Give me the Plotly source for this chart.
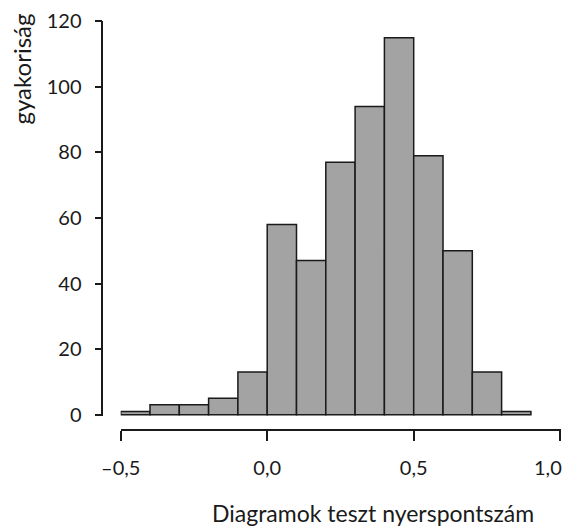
import plotly.graph_objects as go

bin_left = [-0.5, -0.4, -0.3, -0.2, -0.1, 0.0, 0.1, 0.2, 0.3, 0.4, 0.5, 0.6, 0.7, 0.8]
bin_width = 0.1
counts = [1, 3, 3, 5, 13, 58, 47, 77, 94, 115, 79, 50, 13, 1]
x_tickvals = [-0.5, 0.0, 0.5, 1.0]
x_ticktext = ["–0,5", "0,0", "0,5", ""]
last_tick_label = "1,0"
y_tickvals = [0, 20, 40, 60, 80, 100, 120]

W, H = 568, 526
FONT = "Lato"

centers = [b + bin_width / 2 for b in bin_left]

fig = go.Figure(go.Bar(
    x=centers, y=counts, width=[bin_width] * len(counts),
    marker=dict(color="#a3a3a3", line=dict(color="#1a1a1a", width=1.5)),
))

fig.update_layout(
    width=W, height=H,
    margin=dict(l=0, r=0, t=0, b=0),
    plot_bgcolor="white", paper_bgcolor="white",
    showlegend=False,
    font=dict(family=FONT, size=20, color="#1a1a1a"),
    xaxis=dict(
        domain=[120.7 / W, 560.5 / W], range=[-0.5, 1.001],
        anchor="free", position=(H - 430) / H, automargin=False,
        showline=True, linecolor="#1a1a1a", linewidth=1.5,
        ticks="outside", ticklen=10, tickwidth=1.5, tickcolor="#1a1a1a",
        tickvals=x_tickvals, ticktext=x_ticktext,
        ticklabelstandoff=10, ticklabeloverflow="allow",
        showgrid=False, zeroline=False,
    ),
    yaxis=dict(
        domain=[(H - 416) / H, (H - 21.3) / H], range=[-0.4, 120],
        anchor="free", position=102.3 / W, automargin=False,
        showline=True, linecolor="#1a1a1a", linewidth=1.5,
        ticks="outside", ticklen=7, tickwidth=1.5, tickcolor="#1a1a1a",
        tickvals=y_tickvals,
        ticklabelstandoff=9,
        showgrid=False, zeroline=False,
    ),
    annotations=[
        dict(text="gyakoriság", textangle=-90, xref="paper", yref="paper",
             x=21 / W, y=(H - 12) / H, xanchor="center", yanchor="top",
             showarrow=False, font=dict(family=FONT, size=24)),
        dict(text="Diagramok teszt nyerspontszám", xref="paper", yref="paper",
             x=373 / W, y=(H - 513) / H, xanchor="center", yanchor="middle",
             showarrow=False, font=dict(family=FONT, size=23)),
        dict(text=last_tick_label, xref="x", yref="paper",
             x=x_tickvals[-1], y=(H - 467) / H, xanchor="right", yanchor="middle",
             xshift=4, showarrow=False, font=dict(family=FONT, size=20)),
    ],
)

fig.write_html(
    "out.html",
    config={"displayModeBar": False},
    post_script="document.body.style.margin='0';document.body.style.padding='0';",
)
